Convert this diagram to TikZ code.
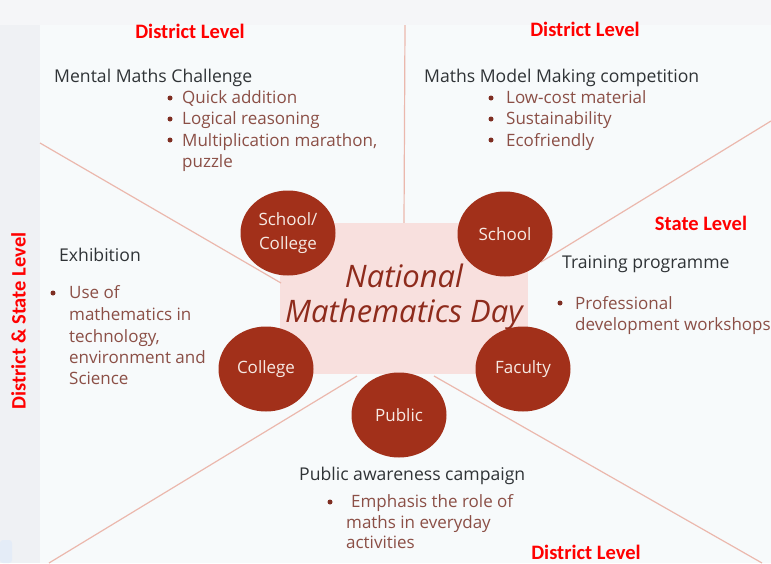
\documentclass[tikz,border=0pt]{standalone}
\usepackage{fontspec}
\setmainfont{Open Sans}
\newfontfamily\lvlfont{Carlito}
\usetikzlibrary{shapes.geometric}
\definecolor{pagebg}{HTML}{EFF1F4}
\definecolor{panelbg}{HTML}{F7FAFB}
\definecolor{topbg}{HTML}{F5F6F8}
\definecolor{cornerbg}{HTML}{E4ECF7}
\definecolor{linec}{HTML}{EBB8AD}
\definecolor{hubbg}{HTML}{F8E0DE}
\definecolor{circ}{HTML}{A2301A}
\definecolor{circtxt}{HTML}{F6EAE4}
\definecolor{titlec}{HTML}{8E2B1C}
\definecolor{headc}{HTML}{2F3336}
\definecolor{itemc}{HTML}{8B4F46}
\definecolor{bulc}{HTML}{7E2E22}
\definecolor{lvlred}{HTML}{FF0000}
\tikzset{
  lvl/.style={font=\lvlfont\bfseries\fontsize{20.5}{24}\selectfont, text=lvlred, inner sep=0},
  hd/.style={font=\fontsize{17.6}{21}\selectfont, text=headc, anchor=base west, inner sep=0},
  item/.style={font=\fontsize{17}{21}\selectfont, text=itemc, anchor=base west, inner sep=0},
  blob/.style={ellipse, fill=circ, minimum width=95pt, minimum height=85pt, inner sep=0,
               text=circtxt, font=\fontsize{17}{24}\selectfont, align=center},
  conn/.style={draw=linec, line width=1.2pt},
  bul/.style={circle, fill=bulc, inner sep=0, minimum size=5pt},
  hubstyle/.style={fill=hubbg, minimum width=248pt, minimum height=151pt, inner sep=0},
  titlestyle/.style={font=\itshape\fontsize{31}{35}\selectfont, text=titlec, align=center, inner sep=0}
}
\begin{document}
\begin{tikzpicture}[x=1pt,y=-1pt]
\useasboundingbox (0,0) rectangle (771,563);
% backgrounds
\fill[pagebg] (0,0) rectangle (771,563);
\fill[topbg] (0,0) rectangle (771,25);
\fill[panelbg] (40,25) rectangle (771,563);
\fill[cornerbg, rounded corners=3pt] (0,540) rectangle (12,563);

% hub
\node[hubstyle] (hub) at (404,298.5) {};

% connector end points
\coordinate (topEnd) at (405,25);
\coordinate (ulEnd) at (40,143);  \coordinate (ulIn) at (281,283);
\coordinate (urEnd) at (771,121); \coordinate (urIn) at (541,262);
\coordinate (llEnd) at (49,563);  \coordinate (llIn) at (357,376);
\coordinate (lrEnd) at (762,563); \coordinate (lrIn) at (434,376);

\draw[conn] (hub.north) -- (topEnd);
\draw[conn] (ulIn) -- (ulEnd);
\draw[conn] (urIn) -- (urEnd);
\draw[conn] (llIn) -- (llEnd);
\draw[conn] (lrIn) -- (lrEnd);

% title
\node[titlestyle] (title) at (404,297) {National\\Mathematics Day};

% circles
\node[blob] (sc) at (288,233) {School/\\College};
\node[blob] (sch) at (505,234) {School};
\node[blob] (col) at (266,369) {College};
\node[blob] (fac) at (523,369) {Faculty};
\node[blob] (pub) at (399,415) {Public};

% level labels
\node[lvl, anchor=base] (lvlTL) at (190,38) {District Level};
\node[lvl, anchor=base] (lvlTR) at (585,36) {District Level};
\node[lvl, anchor=base] (lvlST) at (701,230) {State Level};
\node[lvl, anchor=base] (lvlBT) at (586,559) {District Level};
\node[lvl, rotate=90] (lvlW) at (18.5,321) {District \& State Level};

% mental maths
\node[hd] (mm) at (54,82) {Mental Maths Challenge};
\node[bul] (mmb1) at (170,98) {};
\node[bul] (mmb2) at (170,119) {};
\node[bul] (mmb3) at (170,140) {};
\node[item] (mm1) at (182,103) {Quick addition};
\node[item] (mm2) at (182,124) {Logical reasoning};
\node[item] (mm3) at (182,146) {Multiplication marathon,};
\node[item] (mm4) at (182,167) {puzzle};

% model making
\node[hd] (mk) at (424,82) {Maths Model Making competition};
\node[bul] (mkb1) at (491,98) {};
\node[bul] (mkb2) at (491,119) {};
\node[bul] (mkb3) at (491,140) {};
\node[item] (mk1) at (506,103) {Low-cost material};
\node[item] (mk2) at (506,124) {Sustainability};
\node[item] (mk3) at (506,146) {Ecofriendly};

% exhibition
\node[hd] (ex) at (59,261) {Exhibition};
\node[bul] (exb1) at (53,293) {};
\node[item] (ex1) at (69,298) {Use of};
\node[item] (ex2) at (69,320) {mathematics in};
\node[item] (ex3) at (69,342) {technology,};
\node[item] (ex4) at (69,363) {environment and};
\node[item] (ex5) at (69,384) {Science};

% training
\node[hd] (tr) at (562,268) {Training programme};
\node[bul] (trb1) at (560,303) {};
\node[item] (tr1) at (575,309) {Professional};
\node[item] (tr2) at (575,330) {development workshops};

% public
\node[hd] (pa) at (299,480) {Public awareness campaign};
\node[bul] (pab1) at (330,502) {};
\node[item] (pa1) at (351,507) {Emphasis the role of};
\node[item] (pa2) at (346,528) {maths in everyday};
\node[item] (pa3) at (346,548) {activities};
\end{tikzpicture}
\end{document}
